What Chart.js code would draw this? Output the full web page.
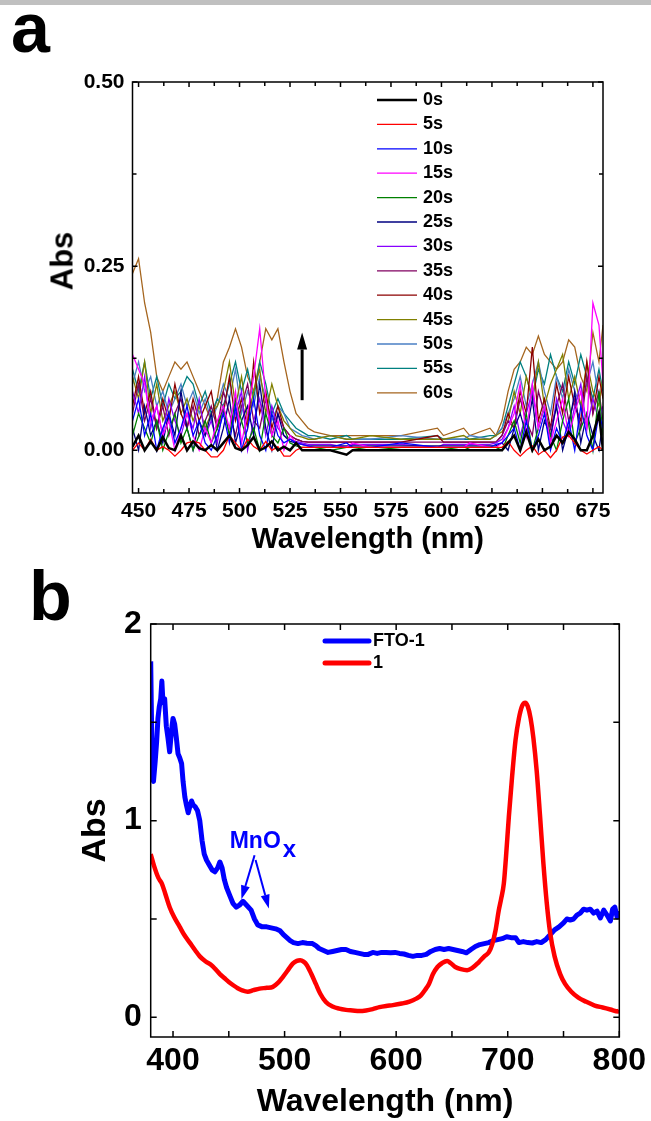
<!DOCTYPE html>
<html>
<head>
<meta charset="utf-8">
<script src="https://cdn.jsdelivr.net/npm/chart.js@4.4.1/dist/chart.umd.min.js"></script>
<style>
  body { margin: 0; background: #fff; width: 651px; height: 1121px; position: relative; overflow: hidden; font-family: 'Liberation Sans', Arial, sans-serif; }
  canvas { position: absolute; left: 0; }
  #ca { top: 0; }
  #cb { top: 560px; }
  #bar { position: absolute; left: 0; top: 0; width: 651px; height: 5px; background: #c0c0c0; }
  .tag { position: absolute; font-weight: bold; font-size: 70px; line-height: 70px; color: #000; }
  #absA { position: absolute; left: 62px; top: 261px; font-weight: bold; font-size: 31px; line-height: 31px; white-space: nowrap; transform: translate(-50%, -50%) rotate(-90deg); }
</style>
</head>
<body>
<canvas id="ca" width="651" height="560"></canvas>
<canvas id="cb" width="651" height="561"></canvas>
<div id="bar"></div>
<div class="tag" style="left:11px;top:-7px">a</div>
<div class="tag" style="left:29px;top:561px">b</div>
<div id="absA">Abs</div>
<script>
// ---------- panel a : absorbance vs time ----------
const wavelengthA = [
  447, 450, 453, 456, 459, 462, 465, 468, 471, 474, 477, 480, 483, 486, 489,
  492, 495, 498, 501, 504, 507, 510, 513, 516, 519, 522, 525, 528, 531, 534,
  537, 545, 553, 556, 565, 580, 598, 601, 611, 614, 624, 627,
  630, 633, 636, 639, 642, 645, 648, 651, 654, 657, 660, 663, 666, 669, 672, 675, 678, 680
];
const timeLabels = ['0s', '5s', '10s', '15s', '20s', '25s', '30s', '35s', '40s', '45s', '50s', '55s', '60s'];

const abs0s = [
  0.005, 0.02, 0.0, 0.012, 0.0, 0.018, 0.003, 0.0, 0.02, 0.0, 0.012, 0.003, 0.0, 0.007, 0.0,
  0.01, 0.02, 0.003, 0.0, 0.007, 0.018, 0.0, 0.004, 0.012, 0.0, 0.005, 0.0, 0.01, 0.0, 0.0,
  0.0, 0.0, -0.006, 0.0, 0.0, 0.0, 0.0, 0.0, 0.0, 0.0, 0.0, 0.0,
  0.0, 0.01, 0.02, 0.0, 0.025, 0.0, 0.015, 0.0, 0.005, 0.02, 0.01, 0.025, 0.015, 0.0, 0.0, 0.02, 0.05, 0.0
];
const abs5s = [
  0.0, 0.01, 0.0, 0.015, 0.0, 0.005, 0.0, -0.008, 0.0, 0.01, 0.012, 0.01, 0.0, -0.009, -0.009,
  0.0, 0.02, 0.01, 0.0, 0.015, 0.005, 0.0, 0.012, 0.0, 0.005, -0.008, -0.008, 0.0, 0.004, 0.004,
  0.004, 0.004, 0.004, 0.004, 0.004, 0.004, 0.004, 0.004, 0.004, 0.004, 0.004, 0.004,
  0.004, 0.012, 0.0, -0.008, 0.0, 0.006, -0.006, 0.0, -0.01, 0.0, 0.018, 0.02, 0.01, 0.0, -0.005, 0.0, 0.005, 0.0
];
const abs10s = [
  0.04, 0.07, 0.02, 0.05, 0.0, 0.03, 0.05, 0.01, 0.03, 0.06, 0.02, 0.04, 0.01, 0.0, 0.02,
  0.05, 0.01, 0.06, 0.0, 0.03, 0.07, 0.02, 0.0, 0.05, 0.02, 0.01, 0.015, 0.01, 0.008, 0.006,
  0.004, 0.004, 0.01, 0.004, 0.004, 0.01, 0.004, 0.004, 0.004, 0.004, 0.004, 0.008,
  0.01, 0.02, 0.03, 0.0, 0.04, 0.0, 0.02, 0.05, 0.0, 0.03, 0.01, 0.04, 0.0, 0.06, 0.02, 0.0, 0.05, 0.03
];
const abs15s = [
  0.13, 0.11, 0.09, 0.04, 0.06, 0.02, 0.04, 0.0, 0.03, 0.05, 0.02, 0.0, 0.03, 0.01, 0.04,
  0.06, 0.03, 0.08, 0.01, 0.05, 0.1, 0.165, 0.07, 0.02, 0.04, 0.0, 0.02, 0.01, 0.008, 0.006,
  0.004, 0.004, 0.004, 0.01, 0.004, 0.004, 0.004, 0.004, 0.004, 0.01, 0.004, 0.004,
  0.01, 0.03, 0.05, 0.09, 0.02, 0.09, 0.03, 0.06, 0.01, 0.04, 0.07, 0.02, 0.05, 0.08, 0.03, 0.2, 0.17, 0.09
];
const abs20s = [
  0.02, 0.05, 0.03, 0.01, 0.04, 0.0, 0.025, 0.05, 0.01, 0.03, 0.0, 0.02, 0.04, 0.01, 0.03,
  0.06, 0.02, 0.07, 0.04, 0.01, 0.03, 0.0, 0.05, 0.02, 0.01, 0.03, 0.01, 0.006, 0.004, 0.004,
  0.004, 0.0, 0.004, 0.004, 0.0, 0.004, 0.004, 0.004, 0.0, 0.004, 0.004, 0.004,
  0.0, 0.02, 0.04, 0.01, 0.05, 0.0, 0.03, 0.06, 0.02, 0.0, 0.04, 0.07, 0.01, 0.03, 0.05, 0.0, 0.08, 0.02
];
const abs25s = [
  0.03, 0.0, 0.06, 0.02, 0.04, 0.01, 0.05, 0.02, 0.08, 0.03, 0.0, 0.04, 0.02, 0.05, 0.0,
  0.03, 0.07, 0.01, 0.04, 0.06, 0.02, 0.09, 0.03, 0.0, 0.05, 0.02, 0.012, 0.01, 0.008, 0.006,
  0.006, 0.006, 0.006, 0.006, 0.006, 0.006, 0.006, 0.006, 0.006, 0.006, 0.006, 0.006,
  0.01, 0.0, 0.03, 0.05, 0.02, 0.07, 0.0, 0.04, 0.02, 0.06, 0.0, 0.03, 0.08, 0.01, 0.05, 0.02, 0.0, 0.04
];
const abs30s = [
  0.08, 0.05, 0.1, 0.03, 0.06, 0.02, 0.07, 0.04, 0.02, 0.05, 0.03, 0.07, 0.02, 0.04, 0.01,
  0.06, 0.02, 0.05, 0.08, 0.0, 0.04, 0.07, 0.02, 0.06, 0.03, 0.02, 0.015, 0.012, 0.01, 0.008,
  0.008, 0.008, 0.004, 0.008, 0.008, 0.008, 0.004, 0.008, 0.008, 0.008, 0.008, 0.01,
  0.015, 0.03, 0.06, 0.02, 0.05, 0.08, 0.03, 0.06, 0.01, 0.07, 0.04, 0.02, 0.06, 0.09, 0.03, 0.07, 0.04, 0.06
];
const abs35s = [
  0.05, 0.09, 0.04, 0.07, 0.03, 0.06, 0.02, 0.05, 0.07, 0.03, 0.06, 0.02, 0.04, 0.06, 0.03,
  0.08, 0.05, 0.02, 0.06, 0.09, 0.04, 0.03, 0.07, 0.02, 0.05, 0.03, 0.02, 0.015, 0.012, 0.011,
  0.011, 0.011, 0.011, 0.011, 0.011, 0.011, 0.011, 0.011, 0.011, 0.011, 0.011, 0.011,
  0.02, 0.04, 0.03, 0.07, 0.04, 0.02, 0.08, 0.05, 0.03, 0.06, 0.09, 0.04, 0.07, 0.03, 0.1, 0.05, 0.08, 0.04
];
const abs40s = [
  0.06, 0.1, 0.05, 0.08, 0.03, 0.07, 0.04, 0.09, 0.05, 0.03, 0.07, 0.04, 0.06, 0.08, 0.03,
  0.05, 0.1, 0.04, 0.07, 0.03, 0.12, 0.05, 0.08, 0.03, 0.06, 0.03, 0.02, 0.015, 0.012, 0.011,
  0.011, 0.011, 0.011, 0.011, 0.011, 0.011, 0.02, 0.011, 0.011, 0.011, 0.011, 0.011,
  0.02, 0.05, 0.03, 0.08, 0.05, 0.14, 0.04, 0.07, 0.03, 0.09, 0.05, 0.1, 0.06, 0.04, 0.12, 0.05, 0.1, 0.07
];
const abs45s = [
  0.1, 0.07, 0.12, 0.05, 0.09, 0.04, 0.06, 0.08, 0.05, 0.07, 0.04, 0.06, 0.03, 0.05, 0.06,
  0.08, 0.12, 0.06, 0.1, 0.04, 0.08, 0.11, 0.05, 0.09, 0.06, 0.04, 0.03, 0.02, 0.018, 0.015,
  0.015, 0.02, 0.015, 0.015, 0.02, 0.015, 0.015, 0.015, 0.02, 0.015, 0.015, 0.02,
  0.025, 0.04, 0.08, 0.05, 0.1, 0.07, 0.12, 0.06, 0.09, 0.11, 0.13, 0.07, 0.1, 0.06, 0.12, 0.08, 0.06, 0.1
];
const abs50s = [
  0.09, 0.12, 0.08, 0.1, 0.06, 0.08, 0.05, 0.07, 0.09, 0.06, 0.08, 0.05, 0.07, 0.04, 0.06,
  0.09, 0.07, 0.11, 0.05, 0.08, 0.06, 0.1, 0.07, 0.04, 0.06, 0.05, 0.03, 0.025, 0.02, 0.018,
  0.015, 0.02, 0.015, 0.015, 0.015, 0.02, 0.015, 0.015, 0.015, 0.02, 0.015, 0.02,
  0.03, 0.05, 0.07, 0.1, 0.06, 0.09, 0.12, 0.08, 0.05, 0.1, 0.07, 0.11, 0.08, 0.06, 0.09, 0.12, 0.07, 0.09
];
const abs55s = [
  0.11, 0.08, 0.12, 0.07, 0.1, 0.06, 0.09, 0.07, 0.08, 0.1, 0.09, 0.06, 0.08, 0.05, 0.07,
  0.06, 0.09, 0.12, 0.08, 0.11, 0.07, 0.12, 0.09, 0.05, 0.07, 0.05, 0.04, 0.03, 0.025, 0.02,
  0.02, 0.015, 0.02, 0.015, 0.015, 0.015, 0.02, 0.015, 0.015, 0.015, 0.02, 0.02,
  0.03, 0.06, 0.09, 0.12, 0.1, 0.07, 0.11, 0.09, 0.13, 0.1, 0.08, 0.12, 0.09, 0.13, 0.1, 0.07, 0.11, 0.08
];
const abs60s = [
  0.24, 0.26, 0.2, 0.16, 0.1, 0.08, 0.1, 0.12, 0.11, 0.12, 0.1, 0.08, 0.06, 0.04, 0.07,
  0.12, 0.14, 0.165, 0.14, 0.1, 0.08, 0.12, 0.165, 0.15, 0.165, 0.12, 0.08, 0.05, 0.04, 0.03,
  0.025, 0.02, 0.02, 0.02, 0.02, 0.02, 0.03, 0.02, 0.03, 0.02, 0.03, 0.02,
  0.04, 0.08, 0.11, 0.12, 0.14, 0.13, 0.155, 0.13, 0.12, 0.11, 0.12, 0.15, 0.14, 0.1, 0.08, 0.16, 0.12, 0.17
];
const seriesA = [abs0s, abs5s, abs10s, abs15s, abs20s, abs25s, abs30s, abs35s, abs40s, abs45s, abs50s, abs55s, abs60s];

const xTicksA = [450, 462.5, 475, 487.5, 500, 512.5, 525, 537.5, 550, 562.5, 575, 587.5, 600, 612.5, 625, 637.5, 650, 662.5, 675];
const xLabelsA = [450, 475, 500, 525, 550, 575, 600, 625, 650, 675];
const yTicksA = [0, 0.125, 0.25, 0.375, 0.5];
const yLabelsA = [0, 0.25, 0.5];
// growth arrow: wavelength, from abs, to abs
const arrowA = [531, 0.068, 0.16];

// ---------- panel b : FTO-1 vs 1 ----------
const wavelengthFTO = [
  380, 380.5, 381.5, 382.5, 384, 385.3, 386.5, 387.7, 389, 390,
  391, 392.5, 394, 395.5, 397, 398.5, 400, 401.5, 403, 404.5,
  406, 407.7, 409, 410.6, 412, 413.6, 415, 416.6, 418, 420,
  422, 424, 426, 428, 430, 432, 435, 437.5, 440, 442,
  444, 446, 448, 450.8, 453.7, 456.7, 459.5, 462.7, 466, 470,
  473, 476, 480, 484, 488, 492, 496, 499, 502, 505,
  508, 512, 516, 520, 525, 528, 531, 535, 539, 543,
  547, 551, 555, 559, 563, 567, 571, 575, 579, 583,
  587, 591, 595, 599, 603, 607, 611, 615, 619, 623,
  627, 631, 635, 639, 643, 647, 651, 655, 659, 663,
  667, 671, 675, 679, 683, 687, 691, 695, 699, 703,
  707, 710, 714, 718, 722, 726, 730, 734, 738, 742,
  746, 750, 753, 756, 759, 762, 765, 768, 771, 774,
  777, 780, 783, 786, 789, 792, 794, 796, 798, 800
];
const absFTO = [
  1.81, 1.6, 1.22, 1.2, 1.3, 1.4, 1.52, 1.58, 1.62, 1.71,
  1.6, 1.62, 1.48, 1.42, 1.35, 1.45, 1.52, 1.49, 1.42, 1.34,
  1.32, 1.29, 1.2, 1.12, 1.08, 1.04, 1.07, 1.1, 1.08, 1.07,
  1.05, 1.0, 0.9, 0.83, 0.8, 0.78, 0.75, 0.74, 0.76, 0.79,
  0.76, 0.70, 0.66, 0.62, 0.58, 0.56, 0.57, 0.59, 0.57, 0.545,
  0.5, 0.47, 0.46, 0.46, 0.455, 0.45, 0.44, 0.42, 0.405, 0.39,
  0.38, 0.375, 0.38, 0.377, 0.375, 0.365, 0.35, 0.34, 0.33, 0.335,
  0.34, 0.345, 0.345, 0.335, 0.33, 0.325, 0.32, 0.32, 0.33, 0.325,
  0.33, 0.33, 0.328, 0.33, 0.325, 0.322, 0.315, 0.31, 0.315, 0.315,
  0.32, 0.335, 0.345, 0.35, 0.345, 0.35, 0.345, 0.34, 0.335, 0.328,
  0.345, 0.36, 0.37, 0.375, 0.38, 0.39, 0.395, 0.4, 0.41, 0.405,
  0.405, 0.38, 0.385, 0.38, 0.378, 0.385, 0.38, 0.395, 0.42, 0.445,
  0.46, 0.48, 0.5, 0.495, 0.5, 0.52, 0.53, 0.55, 0.545, 0.55,
  0.53, 0.54, 0.505, 0.545, 0.52, 0.49, 0.55, 0.56, 0.51, 0.54
];
const wavelength1 = [
  380, 383, 386.8, 390, 393, 397, 401, 406, 410, 415,
  420, 424, 429, 434.5, 438, 442, 446, 450, 454, 458,
  462, 467, 472, 477.6, 484, 489.5, 494, 498.4, 503, 507.3,
  511, 514, 517, 520, 524, 528, 532, 537, 543, 549,
  555, 561, 567, 573, 579, 585, 591, 597, 605, 612,
  618, 622, 626, 629.4, 633, 637, 641, 645.7, 649, 653,
  658, 663.6, 668, 674, 679, 683, 686, 689, 692, 694,
  696.5, 698.5, 701, 704, 707, 710, 713, 715.7, 718, 720.5,
  723, 726, 729, 732, 735, 738, 742, 747, 751.4, 757,
  763.3, 770, 778, 785, 792, 799, 800
];
const abs1 = [
  0.83, 0.77, 0.71, 0.68, 0.63, 0.56, 0.51, 0.46, 0.42, 0.38,
  0.34, 0.31, 0.285, 0.265, 0.245, 0.22, 0.2, 0.18, 0.163, 0.148,
  0.137, 0.13, 0.138, 0.146, 0.15, 0.155, 0.175, 0.205, 0.24, 0.273,
  0.287, 0.29, 0.283, 0.265, 0.22, 0.17, 0.12, 0.078, 0.055, 0.044,
  0.038, 0.035, 0.032, 0.035, 0.042, 0.052, 0.058, 0.062, 0.07, 0.08,
  0.095, 0.11, 0.14, 0.17, 0.22, 0.256, 0.275, 0.287, 0.275, 0.256,
  0.245, 0.24, 0.25, 0.28, 0.31, 0.33, 0.37, 0.44, 0.545, 0.6,
  0.68, 0.82, 1.02, 1.23, 1.41, 1.52, 1.585, 1.6, 1.58, 1.52,
  1.42, 1.25, 1.02, 0.78, 0.58, 0.43, 0.31, 0.22, 0.17, 0.13,
  0.10, 0.08, 0.06, 0.05, 0.04, 0.03, 0.035
];
const xTicksB = [400, 450, 500, 550, 600, 650, 700, 750, 800];
const xLabelsB = [400, 500, 600, 700, 800];
const yTicksB = [0, 0.5, 1, 1.5, 2];
const yLabelsB = [0, 1, 2];
// MnOx label and its two arrows, in data units
const mnoxLabel = [450.8, 0.86];
const mnoxArrows = [[473.1, 0.824, 461.3, 0.6], [474, 0.80, 485.9, 0.553]];

// ---------- styles ----------
const FONT = "'Liberation Sans', Arial, sans-serif";
const colorsA = ['#000000', '#ff0000', '#0000ff', '#ff00ff', '#008000', '#000080', '#8800ff',
                 '#800060', '#8b0000', '#808000', '#4a7fc4', '#008080', '#a5651e'];

function drawArrow(ctx, x1, y1, x2, y2, width, headLen, headW, color) {
  const ang = Math.atan2(y2 - y1, x2 - x1);
  const bx = x2 - headLen * Math.cos(ang), by = y2 - headLen * Math.sin(ang);
  ctx.strokeStyle = color;
  ctx.fillStyle = color;
  ctx.lineWidth = width;
  ctx.beginPath();
  ctx.moveTo(x1, y1);
  ctx.lineTo(bx, by);
  ctx.stroke();
  ctx.beginPath();
  ctx.moveTo(x2, y2);
  ctx.lineTo(bx + headW / 2 * Math.sin(ang), by - headW / 2 * Math.cos(ang));
  ctx.lineTo(bx - headW / 2 * Math.sin(ang), by + headW / 2 * Math.cos(ang));
  ctx.closePath();
  ctx.fill();
}

// frame + inward ticks on all four sides
const frameTicks = {
  id: 'frameTicks',
  afterDatasetsDraw(chart, args, o) {
    const {ctx, chartArea: a} = chart;
    const x = chart.scales.x, y = chart.scales.y;
    ctx.save();
    ctx.strokeStyle = '#000';
    ctx.lineWidth = o.lineWidth;
    ctx.beginPath();
    x.ticks.forEach(t => {
      const px = x.getPixelForValue(t.value);
      const len = t.label !== '' ? o.major : o.minor;
      ctx.moveTo(px, a.bottom); ctx.lineTo(px, a.bottom - len);
      ctx.moveTo(px, a.top); ctx.lineTo(px, a.top + len);
    });
    y.ticks.forEach(t => {
      const py = y.getPixelForValue(t.value);
      const len = t.label !== '' ? o.major : o.minor;
      ctx.moveTo(a.left, py); ctx.lineTo(a.left + len, py);
      ctx.moveTo(a.right, py); ctx.lineTo(a.right - len, py);
    });
    ctx.stroke();
    ctx.strokeRect(a.left, a.top, a.right - a.left, a.bottom - a.top);
    ctx.restore();
  }
};

// legend rows drawn inside the plot
const lineLegend = {
  id: 'lineLegend',
  afterDraw(chart, args, o) {
    const ctx = chart.ctx;
    ctx.save();
    ctx.font = o.font;
    ctx.textBaseline = 'middle';
    ctx.textAlign = 'left';
    ctx.fillStyle = '#000';
    ctx.lineCap = o.lineCap || 'butt';
    chart.data.datasets.forEach((ds, i) => {
      const yy = o.top + i * o.rowGap;
      ctx.strokeStyle = ds.borderColor;
      ctx.lineWidth = o.lineWidth || ds.borderWidth;
      ctx.beginPath();
      ctx.moveTo(o.x0, yy);
      ctx.lineTo(o.x1, yy);
      ctx.stroke();
      ctx.fillText(ds.label, o.textX, yy);
    });
    ctx.restore();
  }
};

const growthArrow = {
  id: 'growthArrow',
  afterDatasetsDraw(chart) {
    const {ctx, scales: {x, y}} = chart;
    const px = x.getPixelForValue(arrowA[0]);
    ctx.save();
    drawArrow(ctx, px, y.getPixelForValue(arrowA[1]), px, y.getPixelForValue(arrowA[2]), 3, 17, 10, '#000');
    ctx.restore();
  }
};

const mnoxNote = {
  id: 'mnoxNote',
  afterDatasetsDraw(chart) {
    const {ctx, scales: {x, y}} = chart;
    ctx.save();
    mnoxArrows.forEach(a => {
      drawArrow(ctx, x.getPixelForValue(a[0]), y.getPixelForValue(a[1]),
                x.getPixelForValue(a[2]), y.getPixelForValue(a[3]), 2, 14, 9, '#0000ff');
    });
    const tx = x.getPixelForValue(mnoxLabel[0]), ty = y.getPixelForValue(mnoxLabel[1]);
    ctx.fillStyle = '#0000ff';
    ctx.textBaseline = 'alphabetic';
    ctx.textAlign = 'left';
    ctx.font = 'bold 23px ' + FONT;
    ctx.fillText('MnO', tx, ty);
    const w = ctx.measureText('MnO').width;
    ctx.font = 'bold 24px ' + FONT;
    ctx.fillText('x', tx + w + 2, ty + 9);
    ctx.restore();
  }
};

function isIn(list, v) {
  return list.some(l => Math.abs(l - v) < 1e-6);
}

// ---------- chart a ----------
new Chart(document.getElementById('ca'), {
  type: 'line',
  data: {
    datasets: seriesA.map((vals, i) => ({
      label: timeLabels[i],
      data: vals.map((v, j) => ({x: wavelengthA[j], y: v})),
      borderColor: colorsA[i],
      borderWidth: i === 0 ? 2.5 : 1.3,
      pointRadius: 0,
      tension: 0,
      fill: false
    }))
  },
  options: {
    responsive: false,
    animation: false,
    devicePixelRatio: 1,
    layout: {padding: {top: 82, right: 48, bottom: 0, left: 0}},
    plugins: {
      legend: {display: false},
      tooltip: {enabled: false},
      frameTicks: {lineWidth: 1.5, major: 5, minor: 4},
      lineLegend: {x0: 377, x1: 417, textX: 423, top: 100, rowGap: 24.4, font: 'bold 18px ' + FONT}
    },
    scales: {
      x: {
        type: 'linear', min: 447, max: 680,
        afterBuildTicks: s => { s.ticks = xTicksA.map(v => ({value: v})); },
        afterFit: s => { s.height = 67; },
        grid: {display: false, drawTicks: false},
        border: {display: false},
        ticks: {
          autoSkip: false, maxRotation: 0, padding: 6, color: '#000',
          font: {family: FONT, size: 21, weight: 'bold'},
          callback: v => isIn(xLabelsA, v) ? String(v) : ''
        },
        title: {
          display: true, text: 'Wavelength (nm)', color: '#000',
          font: {family: FONT, size: 29, weight: 'bold'}, padding: {top: 0, bottom: 3}
        }
      },
      y: {
        type: 'linear', min: -0.058, max: 0.5,
        afterBuildTicks: s => { s.ticks = yTicksA.map(v => ({value: v})); },
        afterFit: s => { s.width = 132.5; },
        grid: {display: false, drawTicks: false},
        border: {display: false},
        ticks: {
          autoSkip: false, padding: 8, color: '#000',
          font: {family: FONT, size: 21, weight: 'bold'},
          callback: v => isIn(yLabelsA, v) ? v.toFixed(2) : ''
        }
      }
    }
  },
  plugins: [frameTicks, lineLegend, growthArrow]
});

// ---------- chart b ----------
new Chart(document.getElementById('cb'), {
  type: 'line',
  data: {
    datasets: [
      {
        label: 'FTO-1',
        data: absFTO.map((v, j) => ({x: wavelengthFTO[j], y: v})),
        borderColor: '#0000ff', borderWidth: 5, pointRadius: 0, fill: false,
        borderJoinStyle: 'round', order: 1
      },
      {
        label: '1',
        data: abs1.map((v, j) => ({x: wavelength1[j], y: v})),
        borderColor: '#ff0000', borderWidth: 4.5, pointRadius: 0, fill: false,
        cubicInterpolationMode: 'monotone', borderJoinStyle: 'round', order: 0
      }
    ]
  },
  options: {
    responsive: false,
    animation: false,
    devicePixelRatio: 1,
    layout: {padding: {top: 64, right: 30, bottom: 0, left: 0}},
    plugins: {
      legend: {display: false},
      tooltip: {enabled: false},
      frameTicks: {lineWidth: 1.5, major: 6, minor: 6},
      lineLegend: {x0: 325, x1: 369, textX: 373, top: 81, rowGap: 22, lineWidth: 5, lineCap: 'round', font: 'bold 18px ' + FONT}
    },
    scales: {
      x: {
        type: 'linear', min: 380, max: 800,
        afterBuildTicks: s => { s.ticks = xTicksB.map(v => ({value: v})); },
        afterFit: s => { s.height = 84; },
        grid: {display: false, drawTicks: false},
        border: {display: false},
        ticks: {
          autoSkip: false, maxRotation: 0, padding: 5, color: '#000',
          font: {family: FONT, size: 32, weight: 'bold'},
          callback: v => isIn(xLabelsB, v) ? String(v) : ''
        },
        title: {
          display: true, text: 'Wavelength (nm)', color: '#000',
          font: {family: FONT, size: 32, weight: 'bold'}, padding: {top: 0, bottom: 0}
        }
      },
      y: {
        type: 'linear', min: -0.1, max: 2,
        afterBuildTicks: s => { s.ticks = yTicksB.map(v => ({value: v})); },
        afterFit: s => { s.width = 150.7; },
        grid: {display: false, drawTicks: false},
        border: {display: false},
        ticks: {
          autoSkip: false, padding: 9, color: '#000',
          font: {family: FONT, size: 32, weight: 'bold'},
          callback: v => isIn(yLabelsB, v) ? String(v) : ''
        },
        title: {
          display: true, text: 'Abs', color: '#000',
          font: {family: FONT, size: 34, weight: 'bold'}, padding: {top: 75, bottom: 0}
        }
      }
    }
  },
  plugins: [frameTicks, lineLegend, mnoxNote]
});
</script>
</body>
</html>
